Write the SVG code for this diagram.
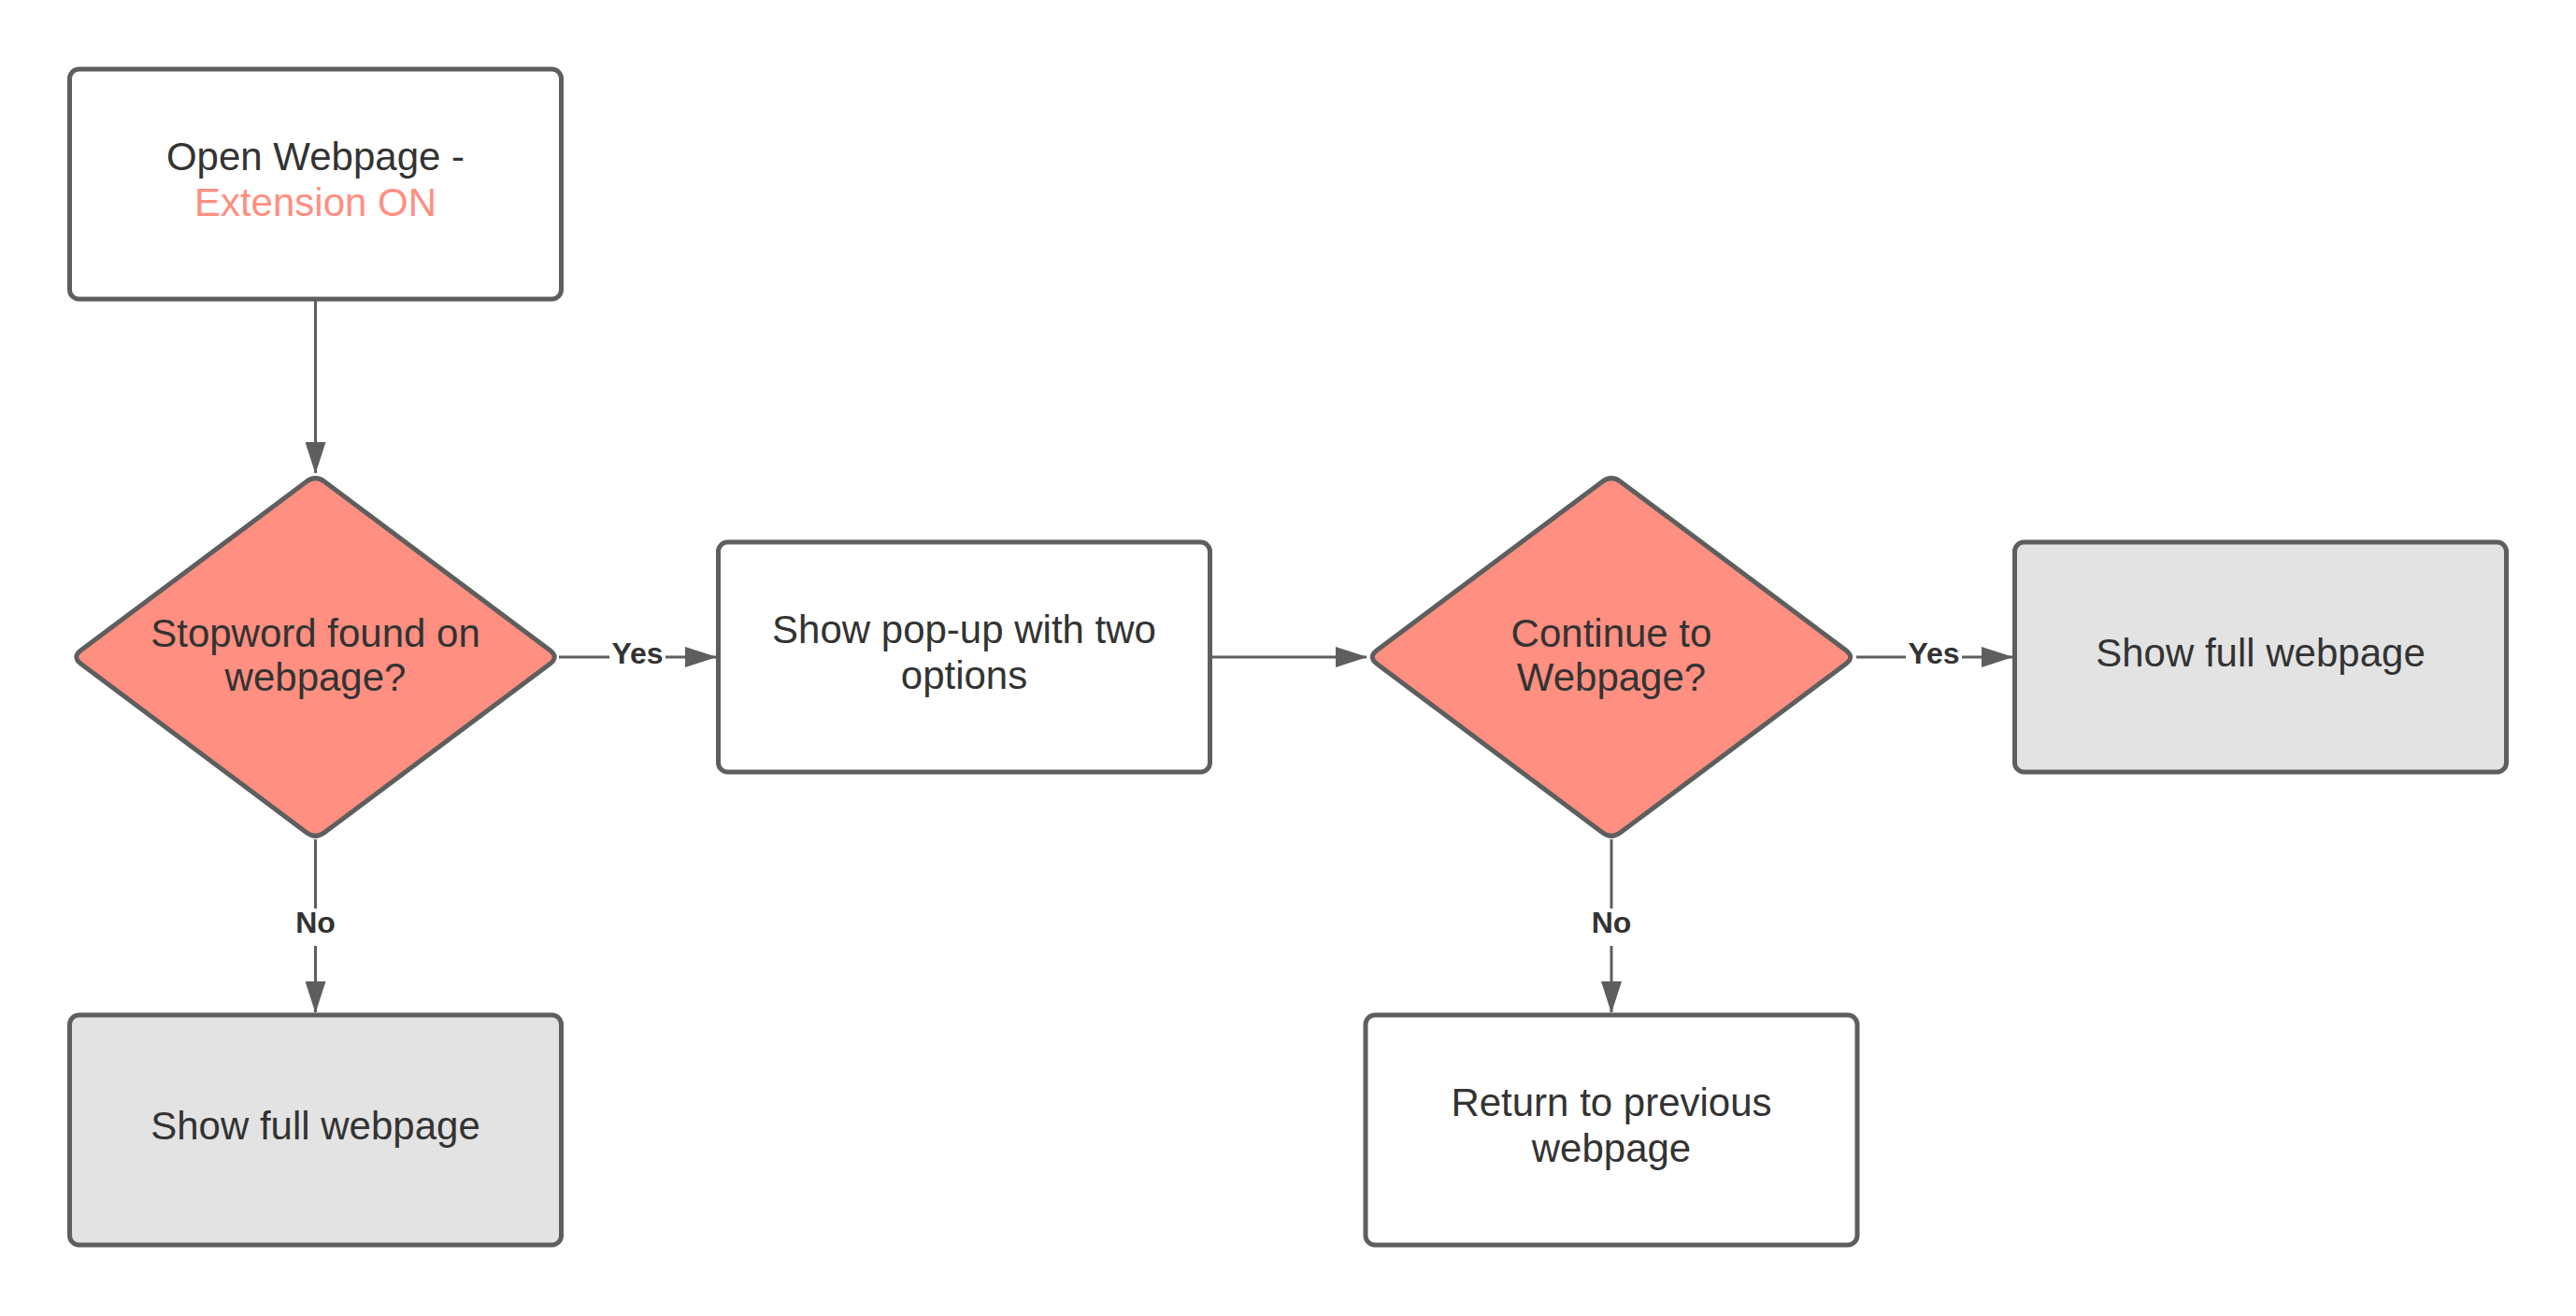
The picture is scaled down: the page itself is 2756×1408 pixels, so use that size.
<svg xmlns="http://www.w3.org/2000/svg" xmlns:xlink="http://www.w3.org/1999/xlink" width="2756" height="1408" viewBox="0 0 2756 1408">
  <style>
    .box { stroke: #5e5e5e; stroke-width: 5; }
    .plain { fill: #ffffff; }
    .grey { fill: #e3e3e3; }
    .decision { fill: #ff8f80; stroke: #5e5e5e; stroke-width: 5; stroke-linejoin: round; }
    .label { font-family: "Liberation Sans", Arial, sans-serif; font-size: 42px; fill: #333333; text-anchor: middle; }
    .accent { fill: #ff8f80; }
    .edge { stroke: #5e5e5e; stroke-width: 3; fill: none; }
    .edge-label { font-family: "Liberation Sans", Arial, sans-serif; font-size: 32px; font-weight: bold; fill: #333333; text-anchor: middle; }
  </style>
  <defs>
    <marker id="arrow" markerUnits="userSpaceOnUse" markerWidth="34" markerHeight="22" refX="33" refY="11" orient="auto">
      <path d="M0,0 L34,11 L0,22 Z" fill="#5e5e5e"/>
    </marker>
    <!-- rounded decision diamond, centred on the origin -->
    <path id="diamond" d="M -9.6,-187.8 Q 0,-195 9.6,-187.8 L 250.9,-7.2 Q 260.5,0 250.9,7.2 L 9.6,187.8 Q 0,195 -9.6,187.8 L -250.9,7.2 Q -260.5,0 -250.9,-7.2 Z"/>
  </defs>

  <rect width="2756" height="1408" fill="#ffffff"/>

  <!-- connectors -->
  <g id="connectors">
    <line class="edge" x1="337.5" y1="322" x2="337.5" y2="506" marker-end="url(#arrow)"/>

    <line class="edge" x1="598" y1="703" x2="766" y2="703" marker-end="url(#arrow)"/>
    <rect x="652" y="684" width="60" height="32" fill="#ffffff"/>
    <text class="edge-label" x="682" y="710">Yes</text>

    <line class="edge" x1="337.5" y1="898" x2="337.5" y2="1083" marker-end="url(#arrow)"/>
    <rect x="314" y="972" width="47" height="40" fill="#ffffff"/>
    <text class="edge-label" x="337.5" y="998">No</text>

    <line class="edge" x1="1295" y1="703" x2="1462" y2="703" marker-end="url(#arrow)"/>

    <line class="edge" x1="1986" y1="703" x2="2153" y2="703" marker-end="url(#arrow)"/>
    <rect x="2039" y="684" width="60" height="32" fill="#ffffff"/>
    <text class="edge-label" x="2069" y="710">Yes</text>

    <line class="edge" x1="1724" y1="898" x2="1724" y2="1083" marker-end="url(#arrow)"/>
    <rect x="1700.5" y="972" width="47" height="40" fill="#ffffff"/>
    <text class="edge-label" x="1724" y="998">No</text>
  </g>

  <!-- nodes -->
  <g id="open-webpage">
    <rect class="box plain" x="74.5" y="74" width="526" height="246" rx="10"/>
    <text class="label" x="337.5" y="182">Open Webpage -</text>
    <text class="label accent" x="337.5" y="231">Extension ON</text>
  </g>

  <g id="stopword-found">
    <use xlink:href="#diamond" class="decision" transform="translate(337.5,703)"/>
    <text class="label" x="337.5" y="692">Stopword found on</text>
    <text class="label" x="337.5" y="739">webpage?</text>
  </g>

  <g id="show-popup">
    <rect class="box plain" x="768.5" y="580" width="526" height="246" rx="10"/>
    <text class="label" x="1031.5" y="688">Show pop-up with two</text>
    <text class="label" x="1031.5" y="737">options</text>
  </g>

  <g id="continue-to-webpage">
    <use xlink:href="#diamond" class="decision" transform="translate(1724,703)"/>
    <text class="label" x="1724" y="692">Continue to</text>
    <text class="label" x="1724" y="739">Webpage?</text>
  </g>

  <g id="show-full-webpage-yes">
    <rect class="box grey" x="2155.5" y="580" width="526" height="246" rx="10"/>
    <text class="label" x="2418.5" y="713">Show full webpage</text>
  </g>

  <g id="show-full-webpage-no">
    <rect class="box grey" x="74.5" y="1086" width="526" height="246" rx="10"/>
    <text class="label" x="337.5" y="1219">Show full webpage</text>
  </g>

  <g id="return-to-previous">
    <rect class="box plain" x="1461" y="1086" width="526" height="246" rx="10"/>
    <text class="label" x="1724" y="1194">Return to previous</text>
    <text class="label" x="1724" y="1243">webpage</text>
  </g>
</svg>
